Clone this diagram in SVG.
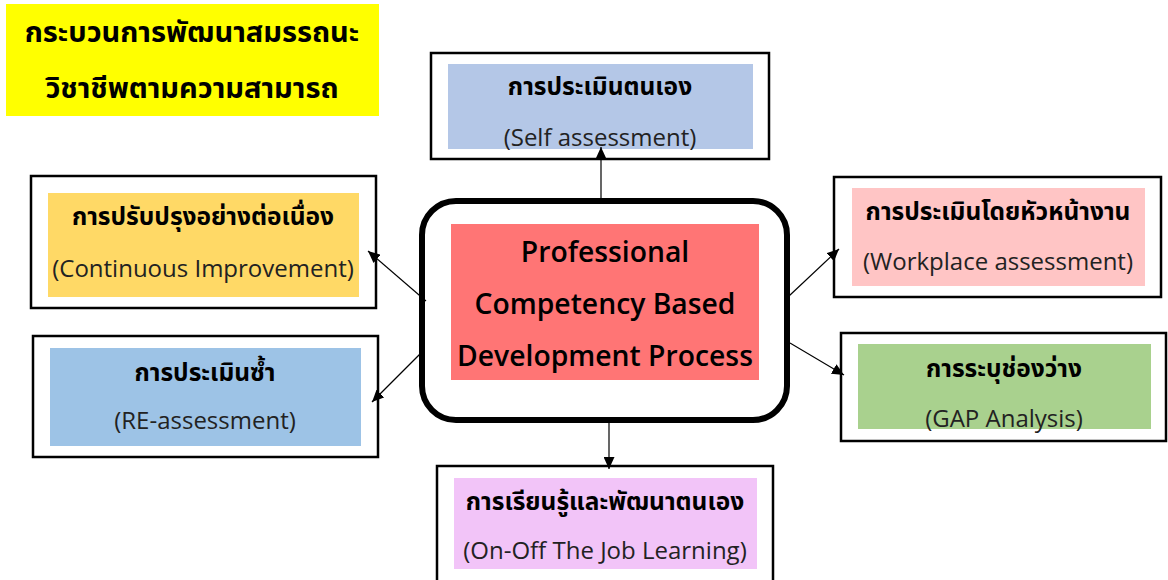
<svg xmlns="http://www.w3.org/2000/svg" width="1168" height="580" viewBox="0 0 1168 580">
  <style>
    .frame { fill: #ffffff; stroke: #000000; stroke-width: 2.5; }
    .th { font-family: "Noto Sans Thai", "Leelawadee UI", "Noto Sans", "DejaVu Sans", sans-serif; font-weight: 700; font-size: 24.5px; fill: #000000; text-anchor: middle; }
    .en { font-family: "Open Sans", "Noto Sans", "Liberation Sans", sans-serif; font-size: 24px; fill: #222222; text-anchor: middle; }
    .core { font-family: "Open Sans", "Noto Sans", "Liberation Sans", sans-serif; font-weight: 600; font-size: 28.3px; fill: #000000; text-anchor: middle; }
    .title { font-family: "Noto Sans Thai", "Leelawadee UI", "Noto Sans", "DejaVu Sans", sans-serif; font-weight: 700; font-size: 29px; fill: #000000; text-anchor: middle; }
    .link { stroke: #000000; stroke-width: 1.2; fill: none; marker-end: url(#head); }
  </style>
  <defs>
    <marker id="head" markerWidth="12" markerHeight="11" refX="12" refY="5.5" orient="auto" markerUnits="userSpaceOnUse">
      <path d="M0,0 L12,5.5 L0,11 Z" fill="#000000"/>
    </marker>
  </defs>

  <rect width="1168" height="580" fill="#ffffff"/>

  <!-- heading -->
  <g id="title">
    <rect x="6" y="4" width="373" height="112" fill="#ffff00"/>
    <text class="title" x="192" y="42">กระบวนการพัฒนาสมรรถนะ</text>
    <text class="title" x="192" y="98">วิชาชีพตามความสามารถ</text>
  </g>

  <!-- central process -->
  <g id="core">
    <rect x="422" y="201" width="365" height="219" rx="34" ry="34" fill="#ffffff" stroke="#000000" stroke-width="6"/>
    <rect x="451" y="224" width="308" height="156" fill="#ff7575"/>
    <text class="core" x="605" y="262">Professional</text>
    <text class="core" x="605" y="314">Competency Based</text>
    <text class="core" x="605" y="366">Development Process</text>
  </g>

  <g id="self">
    <rect class="frame" x="431" y="53" width="338" height="106"/>
    <rect x="448" y="64" width="305" height="85" fill="#b4c7e7"/>
    <text class="th" x="600" y="95">การประเมินตนเอง</text>
    <text class="en" x="600" y="146">(Self assessment)</text>
  </g>

  <g id="continuous">
    <rect class="frame" x="31" y="176" width="345" height="132"/>
    <rect x="48" y="193" width="311" height="104" fill="#ffd966"/>
    <text class="th" x="203" y="225">การปรับปรุงอย่างต่อเนื่อง</text>
    <text class="en" x="203" y="277">(Continuous Improvement)</text>
  </g>

  <g id="reassess">
    <rect class="frame" x="33" y="336" width="345" height="121"/>
    <rect x="50" y="348" width="311" height="98" fill="#9dc3e6"/>
    <text class="th" x="205" y="381">การประเมินซ้ำ</text>
    <text class="en" x="205" y="429">(RE-assessment)</text>
  </g>

  <g id="workplace">
    <rect class="frame" x="834" y="177" width="327" height="120"/>
    <rect x="852" y="188" width="293" height="98" fill="#ffc5c5"/>
    <text class="th" x="998" y="220">การประเมินโดยหัวหน้างาน</text>
    <text class="en" x="998" y="270">(Workplace assessment)</text>
  </g>

  <g id="gap">
    <rect class="frame" x="841" y="333" width="325" height="108"/>
    <rect x="858" y="344" width="293" height="85" fill="#a9d18e"/>
    <text class="th" x="1004" y="377">การระบุช่องว่าง</text>
    <text class="en" x="1004" y="427">(GAP Analysis)</text>
  </g>

  <g id="learning">
    <rect class="frame" x="437" y="466" width="336" height="120"/>
    <rect x="454" y="478" width="303" height="91" fill="#f2c4f8"/>
    <text class="th" x="605" y="510">การเรียนรู้และพัฒนาตนเอง</text>
    <text class="en" x="605" y="559">(On-Off The Job Learning)</text>
  </g>

  <!-- arrows out of the central process -->
  <g id="connectors">
    <line class="link" x1="601" y1="198" x2="601" y2="147"/>
    <line class="link" x1="609" y1="423" x2="609" y2="469"/>
    <line class="link" x1="426" y1="301" x2="368" y2="251"/>
    <line class="link" x1="420" y1="354" x2="372" y2="402"/>
    <line class="link" x1="789" y1="296" x2="839" y2="249"/>
    <line class="link" x1="790" y1="343" x2="844" y2="375"/>
  </g>
</svg>
